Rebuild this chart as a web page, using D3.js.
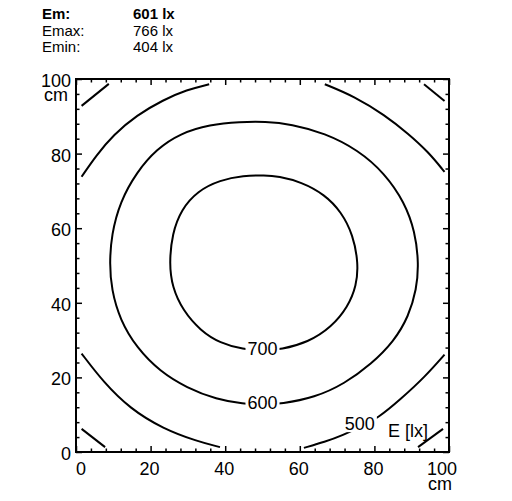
<!DOCTYPE html>
<html>
<head>
<meta charset="utf-8">
<script src="https://cdn.jsdelivr.net/npm/d3@7"></script>
<style>
  body { margin: 0; background: #fff; }
  text { font-family: "Liberation Sans", Arial, sans-serif; fill: #000; }
</style>
</head>
<body>
<div id="chart"></div>
<script>
// Summary block at the top
var summaryNames = ["Em:", "Emax:", "Emin:"];
var summaryValues = ["601 lx", "766 lx", "404 lx"];

// Axis tick labels (cm)
var xTickLabels = [0, 20, 40, 60, 80, 100];
var yTickLabels = [0, 20, 40, 60, 80, 100];

// Isolines, points in cm [x, y]
var iso700 = [
  [50.7, 74.2], [54.2, 73.9], [60.4, 72.4], [66.7, 69.0], [71.1, 64.4], [74.3, 58.2],
  [75.7, 50.5], [75.2, 44.6], [72.9, 38.9], [68.5, 33.5], [62.2, 29.4], [55.0, 27.5],
  [50.0, 27.2], [44.9, 27.5], [38.6, 29.2], [33.4, 32.5], [28.6, 38.0], [25.8, 44.2],
  [25.0, 50.5], [25.8, 58.6], [28.2, 65.0], [32.6, 70.0], [38.6, 72.9], [44.9, 74.1]
];
var iso600 = [
  [50.7, 88.6], [57.7, 87.9], [66.7, 85.5], [75.6, 81.0], [82.8, 74.7], [88.1, 66.9],
  [90.9, 59.1], [91.9, 50.5], [91.3, 43.6], [89.2, 36.4], [85.2, 29.6], [79.2, 23.6],
  [72.0, 18.3], [64.0, 14.6], [55.0, 12.9], [50.0, 12.7], [44.9, 12.9], [37.7, 14.1],
  [29.7, 17.2], [22.5, 21.6], [16.3, 27.9], [11.8, 35.4], [9.5, 43.6], [9.0, 50.5],
  [9.5, 58.2], [11.8, 67.1], [16.3, 75.1], [21.6, 81.2], [27.9, 85.4], [35.9, 87.8],
  [44.0, 88.5]
];
var iso500 = [
  [[1.5, 73.8], [5.5, 79.6], [10.0, 85.0], [16.3, 90.3], [23.4, 94.4], [29.7, 97.1], [35.7, 98.6]],
  [[66.7, 98.6], [74.7, 95.3], [82.8, 90.3], [89.0, 85.4], [94.4, 80.5], [98.8, 75.1]],
  [[1.5, 26.4], [7.3, 18.8], [14.5, 11.6], [23.4, 6.2], [32.4, 2.9], [38.6, 1.3]],
  [[61.1, 1.1], [66.7, 2.7], [71.6, 4.5], [76.3, 6.8], [81.0, 9.1], [87.2, 14.3], [93.5, 20.1], [98.8, 26.1]]
];
var iso400 = [
  [[1.5, 92.8], [8.8, 98.7]],
  [[93.3, 98.6], [98.8, 94.1]],
  [[1.5, 6.2], [7.8, 1.3]],
  [[91.7, 1.3], [98.4, 6.2]]
];

// Isoline labels
var isoLabelText = ["700", "600", "500"];
var isoLabelX = [50.0, 50.0, 76.1];
var isoLabelY = [27.8, 13.4, 7.6];

var margin = {top: 79, right: 63, bottom: 49, left: 76},
    width = 512 - margin.left - margin.right,
    height = 501 - margin.top - margin.bottom;

var xScale = d3.scaleLinear().domain([0, 100]).range([0, width]);
var yScale = d3.scaleLinear().domain([0, 100]).range([height, 0]);

var root = d3.select("#chart")
  .append("svg")
    .attr("width", 512)
    .attr("height", 501);

// Summary text
var head = root.append("g");
summaryNames.forEach(function (name, i) {
  var y = [19, 36, 52][i];
  head.append("text")
    .attr("x", 42).attr("y", y)
    .style("font-size", "15px")
    .style("font-weight", i === 0 ? "bold" : "normal")
    .text(name);
  head.append("text")
    .attr("x", 133).attr("y", y)
    .style("font-size", "15px")
    .style("font-weight", i === 0 ? "bold" : "normal")
    .text(summaryValues[i]);
});

var svg = root.append("g")
  .attr("transform", "translate(" + margin.left + "," + margin.top + ")");

// Ticks on all four sides, pointing inward
var minorTicks = d3.range(0, 101, 4).filter(function (d) { return d % 20 !== 0; });
var majorTicks = d3.range(0, 101, 20);

function tickStyle(g) {
  g.select(".domain").remove();
  g.selectAll(".tick line").attr("stroke", "#000").attr("stroke-width", 1.5);
}

[[majorTicks, 6], [minorTicks, 3.5]].forEach(function (t) {
  svg.append("g")
    .attr("transform", "translate(0," + height + ")")
    .call(d3.axisBottom(xScale).tickValues(t[0]).tickSize(-t[1]).tickFormat(""))
    .call(tickStyle);
  svg.append("g")
    .call(d3.axisTop(xScale).tickValues(t[0]).tickSize(-t[1]).tickFormat(""))
    .call(tickStyle);
  svg.append("g")
    .call(d3.axisLeft(yScale).tickValues(t[0]).tickSize(-t[1]).tickFormat(""))
    .call(tickStyle);
  svg.append("g")
    .attr("transform", "translate(" + width + ",0)")
    .call(d3.axisRight(yScale).tickValues(t[0]).tickSize(-t[1]).tickFormat(""))
    .call(tickStyle);
});

// Frame
svg.append("rect")
  .attr("width", width).attr("height", height)
  .attr("fill", "none").attr("stroke", "#000").attr("stroke-width", 2);

// Axis labels
svg.selectAll(".xlab")
  .data(xTickLabels)
  .enter().append("text")
    .attr("class", "xlab")
    .attr("x", function (d, i) {
      var shift = i === 0 ? 5 : (i === xTickLabels.length - 1 ? -7 : -1);
      return xScale(d) + shift;
    })
    .attr("y", height + 23)
    .attr("text-anchor", "middle")
    .style("font-size", "18px")
    .text(function (d) { return d; });

svg.selectAll(".ylab")
  .data(yTickLabels)
  .enter().append("text")
    .attr("class", "ylab")
    .attr("x", -5)
    .attr("y", function (d) { return yScale(d) + 8; })
    .attr("text-anchor", "end")
    .style("font-size", "18px")
    .text(function (d) { return d; });

svg.append("text")
  .attr("x", -8).attr("y", 22)
  .attr("text-anchor", "end")
  .style("font-size", "18px")
  .text("cm");

svg.append("text")
  .attr("x", xScale(100) - 9).attr("y", height + 38)
  .attr("text-anchor", "middle")
  .style("font-size", "18px")
  .text("cm");

// Isolines
var closedLine = d3.line()
  .x(function (d) { return xScale(d[0]); })
  .y(function (d) { return yScale(d[1]); })
  .curve(d3.curveBasisClosed);

var openLine = d3.line()
  .x(function (d) { return xScale(d[0]); })
  .y(function (d) { return yScale(d[1]); })
  .curve(d3.curveBasis);

var lines = svg.append("g")
  .attr("fill", "none")
  .attr("stroke", "#000")
  .attr("stroke-width", 2);

[iso700, iso600].forEach(function (c) {
  lines.append("path").attr("d", closedLine(c));
});
iso500.concat(iso400).forEach(function (c) {
  lines.append("path").attr("d", openLine(c));
});

// Isoline labels on a white patch that breaks the line
isoLabelText.forEach(function (t, i) {
  var g = svg.append("g");
  var txt = g.append("text")
    .attr("x", xScale(isoLabelX[i]))
    .attr("y", yScale(isoLabelY[i]) + 6.5)
    .attr("text-anchor", "middle")
    .style("font-size", "18px")
    .text(t);
  var bb = txt.node().getBBox();
  g.insert("rect", "text")
    .attr("x", bb.x - 2).attr("y", bb.y + 2)
    .attr("width", bb.width + 4).attr("height", bb.height - 4)
    .attr("fill", "#fff");
});

svg.append("text")
  .attr("x", 312).attr("y", 358)
  .style("font-size", "18px")
  .text("E [lx]");
</script>
</body>
</html>
